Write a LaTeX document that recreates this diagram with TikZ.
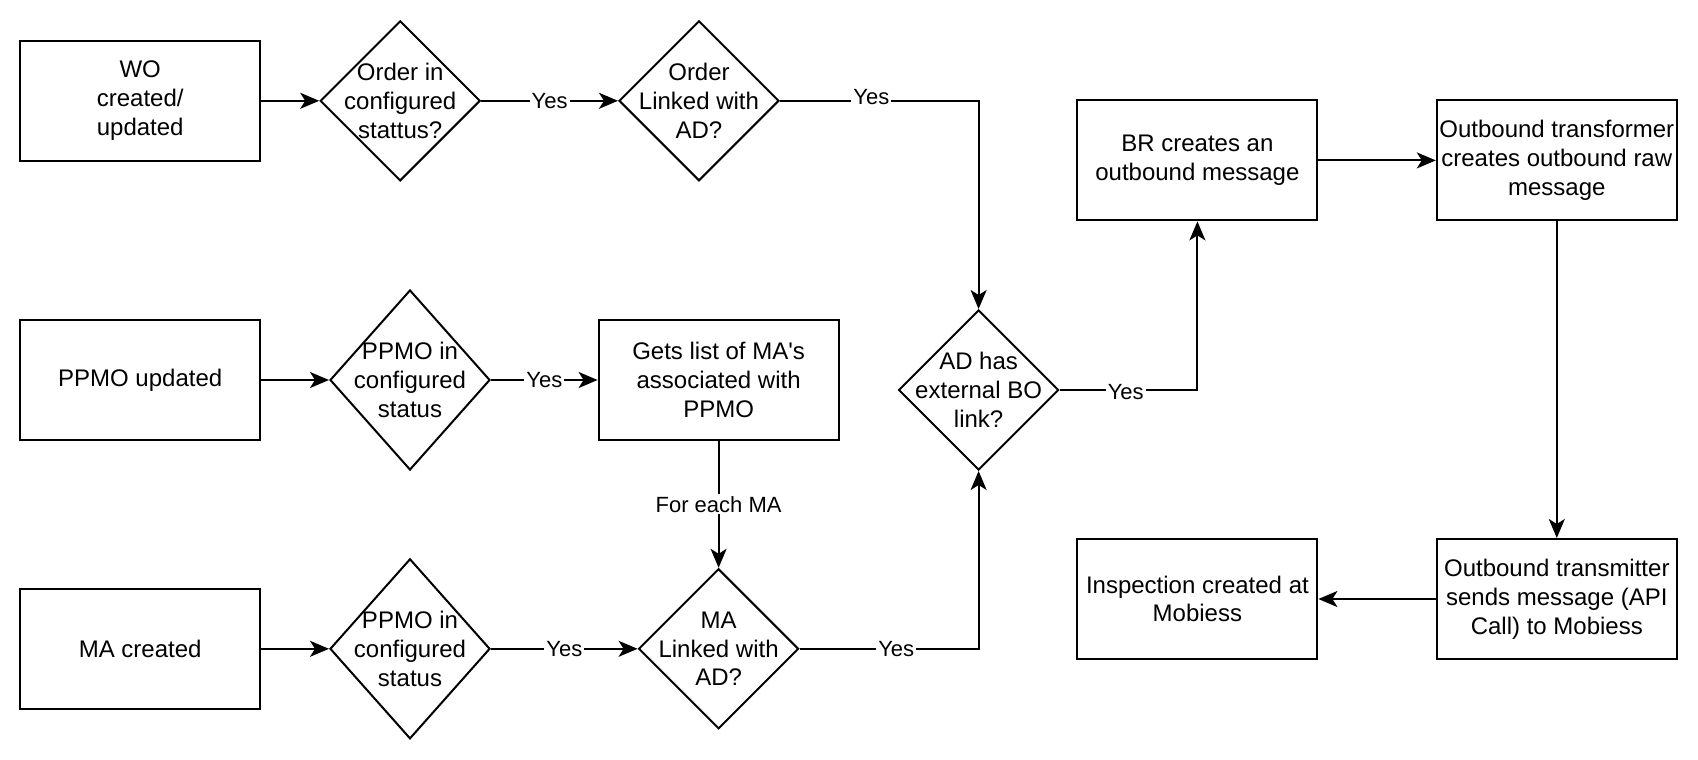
\documentclass[tikz,border=0pt]{standalone}
\usepackage{fontspec}
\setmainfont{Liberation Sans}
\usetikzlibrary{shapes.geometric, arrows.meta}

\tikzset{
  procbox/.style={draw, line width=1pt, minimum width=120pt, minimum height=60pt,
    inner sep=0pt, align=center, font=\fontsize{12}{14.4}\selectfont},
  decision/.style={draw, diamond, line width=1pt, minimum width=80pt,
    minimum height=#1, inner sep=0pt},
  decision/.default=80pt,
  dtext/.style={align=center, inner sep=0pt, font=\fontsize{12}{14.4}\selectfont},
  flow/.style={line width=1pt, -{Stealth[length=9.5pt, width=8pt, inset=2.5pt]}},
  yes/.style={fill=white, inner sep=1pt, font=\fontsize{11}{13}\selectfont},
}

\begin{document}
\begin{tikzpicture}[x=1pt, y=-1pt]
    \useasboundingbox (0,0) rectangle (849,380);

    % left column
    \node [procbox] (wo) at (70.1, 50.4) {WO\\created/\\updated};
    \node [procbox] (ppmo) at (70.1, 190) {PPMO updated};
    \node [procbox] (macreated) at (70.1, 324.4) {MA created};

    % checks
    \node [decision, label={[dtext]center:Order in\\configured\\stattus?}] (ordstat) at (200.1, 50.4) {};
    \node [decision, label={[dtext]center:Order\\Linked with\\AD?}] (ordlink) at (349.5, 50.4) {};
    \node [decision=90pt, label={[dtext]center:PPMO in\\configured\\status}] (ppmostat) at (205, 190) {};
    \node [procbox] (getlist) at (359.3, 190) {Gets list of MA\textquotesingle s\\associated with\\PPMO};
    \node [decision=90pt, label={[dtext]center:PPMO in\\configured\\status}] (mastat) at (205, 324.4) {};
    \node [decision, label={[dtext]center:MA\\Linked with\\AD?}] (malink) at (359.3, 324.4) {};
    \node [decision, label={[dtext]center:AD has\\external BO\\link?}] (adlink) at (489.3, 195) {};

    % outbound side
    \node [procbox] (brmsg) at (598.7, 80.2) {BR creates an\\outbound message};
    \node [procbox] (transf) at (778.4, 80.2) {Outbound transformer\\creates outbound raw\\message};
    \node [procbox] (transm) at (778.4, 299.5) {Outbound transmitter\\sends message (API\\Call) to Mobiess};
    \node [procbox] (insp) at (598.7, 299.5) {Inspection created at\\Mobiess};

    \draw [flow] (wo) -- (ordstat);
    \draw [flow] (ordstat) -- node [yes] {Yes} (ordlink);
    \draw [flow] (ordlink.east) -| node [yes, pos=0.23, yshift=2pt] {Yes} (adlink.north);

    \draw [flow] (ppmo) -- (ppmostat);
    \draw [flow] (ppmostat) -- node [yes] {Yes} (getlist);
    \draw [flow] (getlist) -- node [yes] {For each MA} (malink);

    \draw [flow] (macreated) -- (mastat);
    \draw [flow] (mastat) -- node [yes] {Yes} (malink);
    \draw [flow] (malink.east) -| node [yes, pos=0.27] {Yes} (adlink.south);

    \draw [flow] (adlink.east) -| node [yes, pos=0.24, yshift=-1pt] {Yes} (brmsg.south);
    \draw [flow] (brmsg) -- (transf);
    \draw [flow] (transf) -- (transm);
    \draw [flow] (transm) -- (insp);
\end{tikzpicture}
\end{document}
